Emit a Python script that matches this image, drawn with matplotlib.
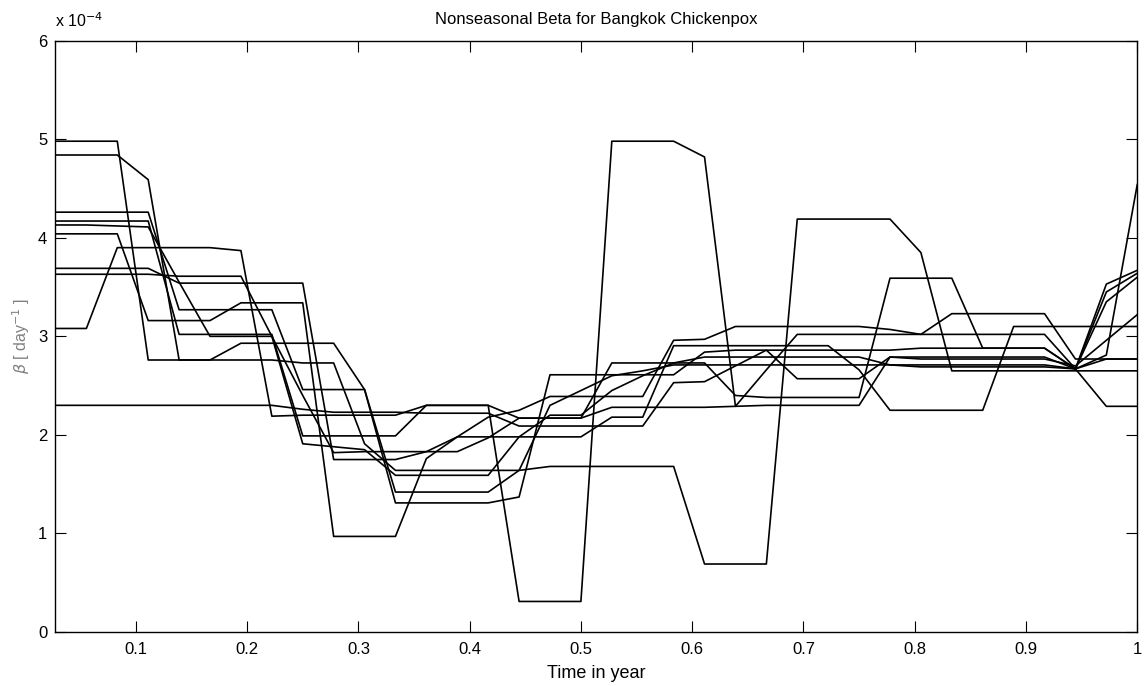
import numpy as np
import matplotlib.pyplot as plt

plt.rcParams['font.family'] = ['Liberation Sans', 'DejaVu Sans']

# time grid: 36 points per year
t = np.arange(1, 37) / 36.0

# beta values (units of 1e-4 per day)
b1 = [4.98, 4.98, 4.98, 2.76, 2.76, 2.76, 2.93, 2.93, 2.93, 2.93, 2.46, 1.42,
      1.42, 1.42, 1.42, 1.64, 1.68, 1.68, 1.68, 1.68, 1.68, 0.69, 0.69, 0.69,
      4.19, 4.19, 4.19, 4.19, 3.85, 2.65, 2.65, 2.65, 2.65, 2.65, 2.65, 2.65]
b2 = [4.84, 4.84, 4.84, 4.59, 2.76, 2.76, 2.76, 2.76, 2.73, 2.73, 1.91, 1.64,
      1.64, 1.64, 1.64, 1.64, 2.30, 2.45, 2.60, 2.65, 2.71, 2.71, 2.71, 2.71,
      2.71, 2.71, 2.71, 2.71, 2.71, 2.71, 2.71, 2.71, 2.71, 2.67, 3.45, 3.64]
b3 = [4.26, 4.26, 4.26, 4.26, 3.27, 3.27, 3.27, 3.27, 2.46, 2.46, 2.46, 1.31,
      1.31, 1.31, 1.31, 1.37, 2.61, 2.61, 2.61, 2.61, 2.61, 2.84, 2.86, 2.86,
      2.86, 2.86, 2.86, 2.86, 2.88, 2.88, 2.88, 2.88, 2.88, 2.67, 3.35, 3.60]
b4 = [4.17, 4.17, 4.17, 4.17, 3.02, 3.02, 3.02, 3.02, 1.99, 1.99, 1.99, 1.99,
      2.30, 2.30, 2.30, 2.17, 2.17, 2.17, 2.28, 2.28, 2.28, 2.28, 2.29, 2.30,
      2.30, 2.30, 2.30, 2.79, 2.79, 2.79, 2.79, 2.79, 2.79, 2.67, 2.29, 2.29]
b5 = [4.13, 4.13, 4.12, 4.11, 3.55, 3.00, 3.00, 3.00, 1.91, 1.88, 1.85, 1.59,
      1.59, 1.59, 1.59, 1.98, 2.20, 2.20, 2.45, 2.60, 2.73, 2.79, 2.79, 2.79,
      2.79, 2.79, 2.79, 2.71, 2.69, 2.69, 2.69, 2.69, 2.69, 2.67, 2.77, 2.77]
b6 = [4.04, 4.04, 4.04, 3.16, 3.16, 3.16, 3.34, 3.34, 3.34, 0.97, 0.97, 0.97,
      1.76, 1.98, 2.18, 2.25, 2.39, 2.39, 2.39, 2.39, 2.96, 2.97, 3.10, 3.10,
      3.10, 3.10, 3.10, 3.07, 3.02, 3.23, 3.23, 3.23, 3.23, 2.77, 2.77, 2.77]
b7 = [3.69, 3.69, 3.69, 3.69, 3.54, 3.54, 3.54, 3.54, 3.54, 1.75, 1.75, 1.75,
      1.83, 1.83, 1.97, 2.17, 2.17, 2.17, 2.73, 2.73, 2.73, 2.73, 2.40, 2.38,
      2.38, 2.38, 2.38, 3.59, 3.59, 3.59, 2.88, 2.88, 2.88, 2.67, 3.53, 3.67]
b8 = [3.63, 3.63, 3.63, 3.63, 3.61, 3.61, 3.61, 3.00, 2.40, 1.82, 1.83, 1.83,
      1.83, 1.98, 1.98, 1.98, 1.98, 1.98, 2.18, 2.18, 2.905, 2.905, 2.905, 2.905,
      2.905, 2.905, 2.66, 2.25, 2.25, 2.25, 2.25, 3.10, 3.10, 3.10, 3.10, 3.10]
b9 = [3.08, 3.08, 3.90, 3.90, 3.90, 3.90, 3.87, 2.19, 2.20, 2.20, 2.20, 2.20,
      2.30, 2.30, 2.30, 0.31, 0.31, 0.31, 4.98, 4.98, 4.98, 4.82, 2.29, 2.66,
      3.02, 3.02, 3.02, 3.02, 3.02, 3.02, 3.02, 3.02, 3.02, 2.67, 2.81, 4.54]
b10 = [2.30, 2.30, 2.30, 2.30, 2.30, 2.30, 2.30, 2.30, 2.26, 2.23, 2.23, 2.23,
       2.22, 2.22, 2.22, 2.09, 2.09, 2.09, 2.09, 2.09, 2.53, 2.54, 2.70, 2.86,
       2.57, 2.57, 2.57, 2.79, 2.77, 2.77, 2.77, 2.77, 2.77, 2.70, 2.96, 3.22]

runs = [b1, b2, b3, b4, b5, b6, b7, b8, b9, b10]

fig = plt.figure(figsize=(11.44, 6.86), dpi=100)
ax = fig.add_axes([0.0485, 0.0787, 0.9456, 0.862])

for b in runs:
    ax.plot(t, b, color='black', linewidth=1.2)

ax.set_xlim(1 / 36.0, 1)
ax.set_ylim(0, 6)
ax.set_xticks([0.1, 0.2, 0.3, 0.4, 0.5, 0.6, 0.7, 0.8, 0.9, 1.0])
ax.set_xticklabels(['0.1', '0.2', '0.3', '0.4', '0.5', '0.6', '0.7', '0.8', '0.9', '1'])
ax.set_yticks(range(7))
ax.tick_params(direction='in', length=8, width=0.8, top=True, right=True,
               labelsize=12)
ax.tick_params(axis='x', pad=7)
ax.tick_params(axis='y', pad=6)
for s in ax.spines.values():
    s.set_linewidth(1.0)

ax.set_title('Nonseasonal Beta for Bangkok Chickenpox', fontsize=12, pad=12)
ax.set_xlabel('Time in year', fontsize=13)
ax.xaxis.set_label_coords(0.5, -0.056)
ax.set_ylabel(r'$\beta$ [ day$^{-1}$ ]', fontsize=11.5, color='#808080', labelpad=4)
ax.text(0.0, 1.018, r'x 10$^{-4}$', transform=ax.transAxes, fontsize=11.5,
        ha='left', va='bottom')

fig.savefig('out.png', dpi=100)
